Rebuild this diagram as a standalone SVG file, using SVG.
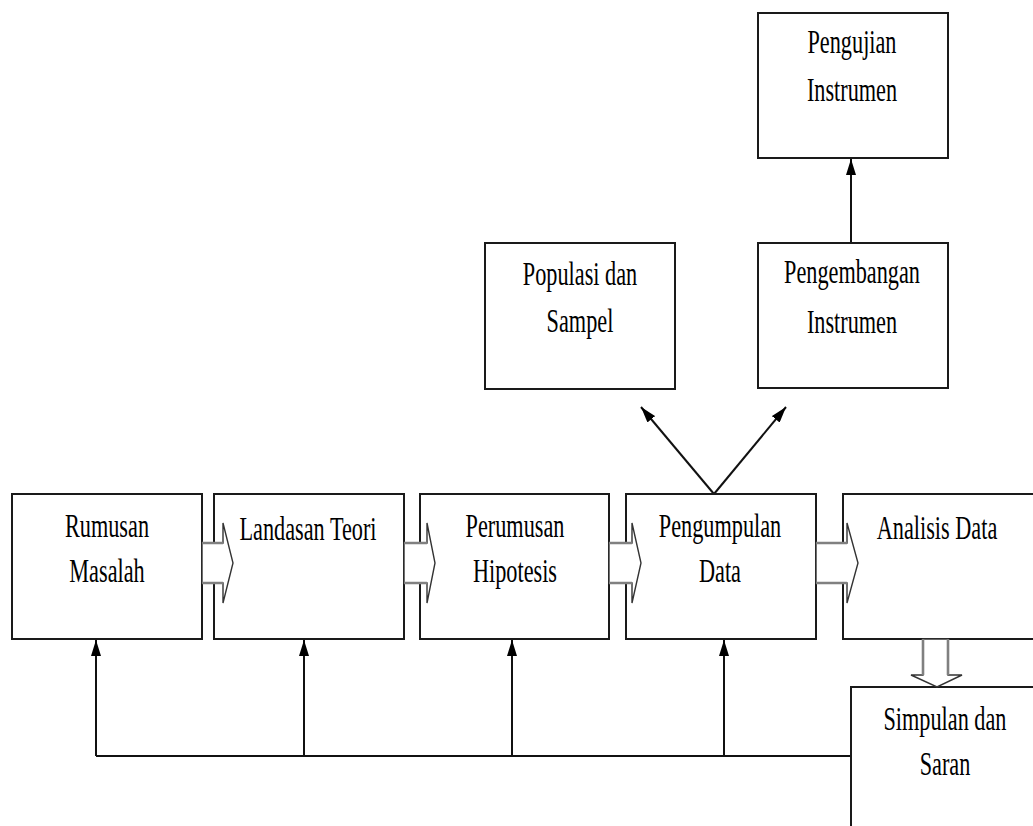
<svg xmlns="http://www.w3.org/2000/svg" width="1033" height="826" viewBox="0 0 1033 826">
<style>
.box{fill:#fff;stroke:#1a1a1a;stroke-width:2}
.lbl{font-family:"Liberation Serif","Times New Roman",serif;font-size:34px;fill:#000;text-anchor:middle}
.ln{fill:none;stroke:#111;stroke-width:2}
.blk{fill:#fff;stroke:#333;stroke-width:1.4;stroke-linejoin:miter}
.shaft{fill:none;stroke:#808080;stroke-width:2.6}
</style>
<defs>
<marker id="ah" viewBox="0 0 16 10" refX="16" refY="5" markerWidth="16" markerHeight="10" markerUnits="userSpaceOnUse" orient="auto">
<path d="M0,0 L16,5 L0,10 Z" fill="#000"/>
</marker>
</defs>
<rect width="1033" height="826" fill="#fff"/>
<g id="connectors">
<path class="ln" d="M96,756 H851"/>
<path class="ln" d="M96,756 V640" marker-end="url(#ah)"/>
<path class="ln" d="M304,756 V640" marker-end="url(#ah)"/>
<path class="ln" d="M512,756 V640" marker-end="url(#ah)"/>
<path class="ln" d="M724,756 V640" marker-end="url(#ah)"/>
<path class="ln" d="M851,243 V159" marker-end="url(#ah)"/>
<path class="ln" d="M714,494 L641,407" marker-end="url(#ah)"/>
<path class="ln" d="M714,494 L786,407" marker-end="url(#ah)"/>
</g>
<g id="rumusan"><rect class="box" x="12" y="494" width="190" height="145"/>
<text class="lbl" transform="translate(107,537) scale(0.655,1)">Rumusan</text>
<text class="lbl" transform="translate(107,582) scale(0.655,1)">Masalah</text></g>
<g id="landasan"><rect class="box" x="214" y="494" width="190" height="145"/>
<text class="lbl" transform="translate(308,540) scale(0.655,1)">Landasan Teori</text></g>
<g id="perumusan"><rect class="box" x="420" y="494" width="189" height="145"/>
<text class="lbl" transform="translate(515,537) scale(0.655,1)">Perumusan</text>
<text class="lbl" transform="translate(515,582) scale(0.655,1)">Hipotesis</text></g>
<g id="pengumpulan"><rect class="box" x="626" y="494" width="190" height="145"/>
<text class="lbl" transform="translate(720,537) scale(0.655,1)">Pengumpulan</text>
<text class="lbl" transform="translate(720,582) scale(0.655,1)">Data</text></g>
<g id="analisis"><rect class="box" x="843" y="494" width="200" height="145"/>
<text class="lbl" transform="translate(937,539) scale(0.655,1)">Analisis Data</text></g>
<g id="simpulan"><rect class="box" x="851" y="687" width="200" height="160"/>
<text class="lbl" transform="translate(945,730) scale(0.655,1)">Simpulan dan</text>
<text class="lbl" transform="translate(945,775) scale(0.655,1)">Saran</text></g>
<g id="populasi"><rect class="box" x="485" y="243" width="190" height="146"/>
<text class="lbl" transform="translate(580,285) scale(0.655,1)">Populasi dan</text>
<text class="lbl" transform="translate(580,332) scale(0.655,1)">Sampel</text></g>
<g id="pengembangan"><rect class="box" x="758" y="243" width="190" height="145"/>
<text class="lbl" transform="translate(852,283) scale(0.655,1)">Pengembangan</text>
<text class="lbl" transform="translate(852,333) scale(0.655,1)">Instrumen</text></g>
<g id="pengujian"><rect class="box" x="758" y="13" width="190" height="145"/>
<text class="lbl" transform="translate(852,53) scale(0.655,1)">Pengujian</text>
<text class="lbl" transform="translate(852,101) scale(0.655,1)">Instrumen</text></g>
<g id="block-arrows">
<polygon class="blk" points="202,543 223,543 223,523 233,563 223,603 223,583 202,583"/>
<path class="shaft" d="M202,543 H223 M202,583 H223"/>
<polygon class="blk" points="404,543 427,543 427,523 435,563 427,603 427,583 404,583"/>
<path class="shaft" d="M404,543 H427 M404,583 H427"/>
<polygon class="blk" points="609,543 632,543 632,523 641,563 632,603 632,583 609,583"/>
<path class="shaft" d="M609,543 H632 M609,583 H632"/>
<polygon class="blk" points="816,543 847,543 847,523 858,563 847,603 847,583 816,583"/>
<path class="shaft" d="M816,543 H847 M816,583 H847"/>
<polygon class="blk" points="923,639 948,639 948,675 962,675 937,687 911,675 923,675"/>
<path class="shaft" d="M923,639 V675 M948,639 V675"/>
</g>
</svg>
